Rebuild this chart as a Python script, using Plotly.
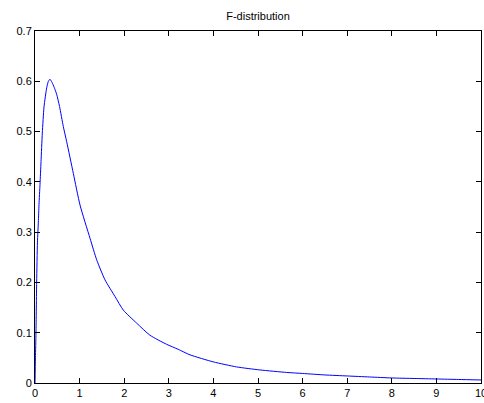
import plotly.graph_objects as go

x_vals = [0, 0.01, 0.022, 0.037, 0.055, 0.075, 0.09, 0.112, 0.135, 0.164, 0.202,
          0.262, 0.30, 0.336, 0.38, 0.43, 0.486, 0.55, 0.635, 0.71, 0.859, 1.009,
          1.233, 1.383, 1.57, 1.794, 1.98, 2.28, 2.578, 2.95, 3.21, 3.475, 3.998,
          4.52, 5.04, 5.64, 6.0, 6.5, 7.0, 7.5, 8.0, 8.5, 9.0, 9.5, 10.0]
y_vals = [0, 0.05, 0.10, 0.20, 0.28, 0.32, 0.355, 0.395, 0.44, 0.497, 0.549,
          0.587, 0.600, 0.604, 0.598, 0.588, 0.574, 0.55, 0.51, 0.48, 0.417, 0.354,
          0.288, 0.245, 0.205, 0.172, 0.145, 0.119, 0.095, 0.077, 0.067, 0.056, 0.042,
          0.032, 0.026, 0.021, 0.019, 0.016, 0.014, 0.012, 0.010, 0.009, 0.008, 0.007, 0.006]

x_ticks = list(range(0, 11))
x_tick_labels = [str(v) for v in x_ticks]
y_ticks = [0, 0.1, 0.2, 0.3, 0.4, 0.5, 0.6, 0.7]
y_tick_labels = ["0", "0.1", "0.2", "0.3", "0.4", "0.5", "0.6", "0.7"]

font = dict(family="Liberation Sans, Arial, sans-serif", size=11, color="black")

fig = go.Figure()
fig.add_trace(go.Scatter(x=x_vals, y=y_vals, mode="lines",
                         line=dict(color="#0000FF", width=1, shape="spline", smoothing=0.6),
                         showlegend=False))

axis_common = dict(showgrid=False, zeroline=False, showline=True, linecolor="black",
                   linewidth=1, mirror="ticks", ticks="inside", ticklen=5,
                   tickcolor="black", tickwidth=1, tickfont=font)

# last x tick label drawn as annotation so it is clipped at the page edge like the original
fig.add_annotation(x=x_ticks[-1], xref="x", y=0, yref="paper", text=x_tick_labels[-1],
                   showarrow=False, xanchor="center", yanchor="top", yshift=-2, font=font)

fig.update_layout(
    width=484, height=403,
    margin=dict(l=35, r=3, t=31, b=20),
    paper_bgcolor="white", plot_bgcolor="white",
    title=dict(text="F-distribution", x=(35 + 481) / 2 / 484, xanchor="center",
               y=1 - 16 / 403, yanchor="middle", font=font),
    xaxis=dict(range=[0, 10], tickvals=x_ticks[:-1], ticktext=x_tick_labels[:-1], **axis_common),
    yaxis=dict(range=[0, 0.7], tickvals=y_ticks, ticktext=y_tick_labels, **axis_common),
)
fig.add_shape(type="line", xref="x", yref="paper", x0=10, x1=10, y0=0, y1=0)

fig.write_html("out.html", config={"displayModeBar": False},
               post_script="document.body.style.margin='0';document.body.style.padding='0';document.body.style.overflow='hidden';")
